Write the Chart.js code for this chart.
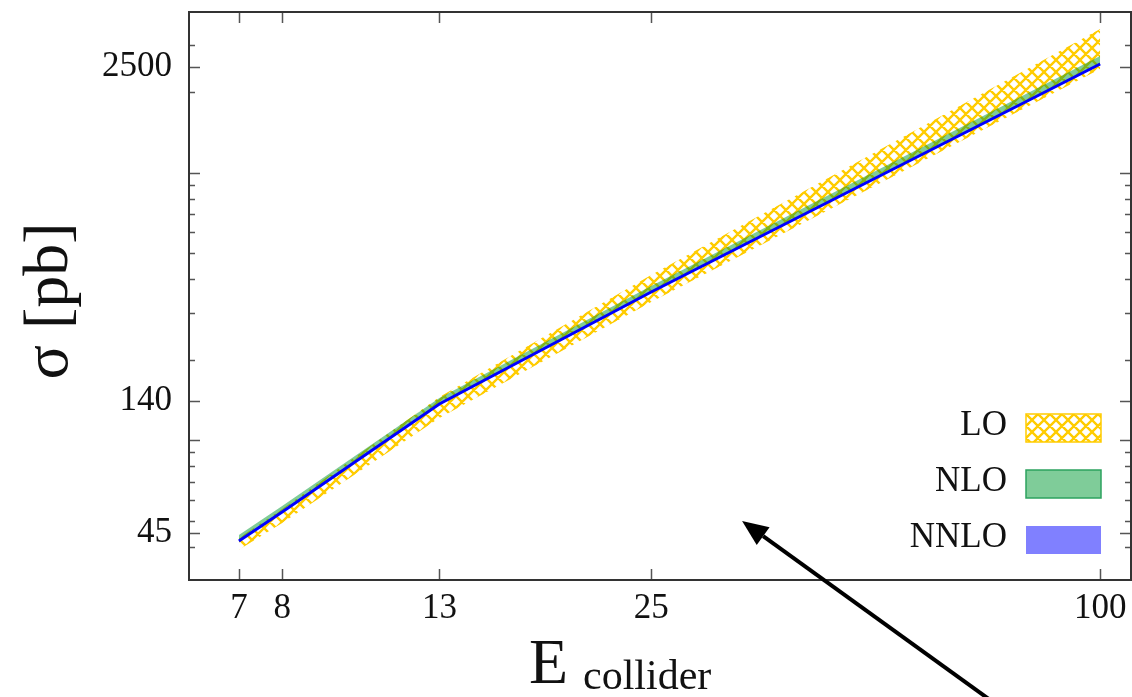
<!DOCTYPE html>
<html>
<head>
<meta charset="utf-8">
<script src="https://cdn.jsdelivr.net/npm/chart.js@4.4.1/dist/chart.umd.min.js"></script>
<style>
  html, body { margin: 0; padding: 0; background: #fff; }
  canvas { display: block; }
</style>
</head>
<body>
<canvas id="xsec" width="1132" height="697"></canvas>
<script>
'use strict';

// collider energies and cross sections [pb]
const energy   = [7, 8, 13, 25, 100];
const nnlo     = [42.0, 53.9, 136.6, 358.5, 2556];
const nloUp    = [44.2, 56.8, 143.9, 377.6, 2738];
const nloDown  = [41.6, 53.4, 135.4, 355.4, 2534];
const loUp     = [43.1, 55.3, 145.1, 415.0, 3455];
const loDown   = [38.9, 49.0, 121.1, 329.0, 2447];

const xTicks      = [7, 8, 13, 25, 100];
const yLabelTicks = [45, 140, 2500];
const yMajorTicks = [45, 100, 140, 1000, 2500];
const yMinorTicks = [40, 50, 60, 70, 80, 90, 200, 300, 400, 500, 600, 700, 800, 900, 2000, 3000];

const SERIF = '"Liberation Serif", "DejaVu Serif", serif';
const GOLD  = '#ffcc00';
const GREEN = 'rgba(0,153,51,0.5)';

const canvas = document.getElementById('xsec');
const ctx = canvas.getContext('2d');

function crossHatch(color) {
  const s = 12;
  const c = document.createElement('canvas');
  c.width = s; c.height = s;
  const g = c.getContext('2d');
  g.strokeStyle = color;
  g.lineWidth = 2.4;
  g.beginPath();
  for (const o of [-s, 0, s]) {
    g.moveTo(o, 0); g.lineTo(o + s, s);
    g.moveTo(o, s); g.lineTo(o + s, 0);
  }
  g.stroke();
  return ctx.createPattern(c, 'repeat');
}

const hatch = crossHatch(GOLD);
const pts = (vals) => energy.map((e, i) => ({ x: e, y: vals[i] }));

// frame, inward tick marks, legend, axis titles, arrow
const decorations = {
  id: 'decorations',
  afterDraw(chart) {
    const { ctx: c, chartArea: a, scales } = chart;
    const xs = scales.x, ys = scales.y;
    c.save();

    c.strokeStyle = '#555';
    c.lineWidth = 1.5;
    c.beginPath();
    xTicks.forEach((v) => {
      const px = Math.round(xs.getPixelForValue(v)) + 0.5;
      c.moveTo(px, a.bottom); c.lineTo(px, a.bottom - 11);
      c.moveTo(px, a.top);    c.lineTo(px, a.top + 11);
    });
    const yTick = (v, len) => {
      const py = Math.round(ys.getPixelForValue(v)) + 0.5;
      c.moveTo(a.left, py);  c.lineTo(a.left + len, py);
      c.moveTo(a.right, py); c.lineTo(a.right - len, py);
    };
    yMajorTicks.forEach((v) => yTick(v, 11));
    yMinorTicks.forEach((v) => yTick(v, 6));
    c.stroke();

    c.strokeStyle = '#333';
    c.lineWidth = 2;
    c.strokeRect(a.left, a.top, a.right - a.left, a.bottom - a.top);

    // legend
    const boxW = 75, boxH = 28;
    const boxX = a.right - 30 - boxW;
    const rows = [
      { label: 'LO',   top: a.bottom - 166, fill: hatch, line: GOLD },
      { label: 'NLO',  top: a.bottom - 110, fill: GREEN, line: '#2ca25f' },
      { label: 'NNLO', top: a.bottom - 54,  fill: '#8080ff', line: null },
    ];
    c.font = `35px ${SERIF}`;
    c.textAlign = 'right';
    c.textBaseline = 'middle';
    rows.forEach((r) => {
      c.fillStyle = '#111';
      c.fillText(r.label, boxX - 19, r.top + boxH / 2 - 2);
      c.fillStyle = r.fill;
      c.fillRect(boxX, r.top, boxW, boxH);
      if (r.line) {
        c.strokeStyle = r.line;
        c.lineWidth = 1.5;
        c.strokeRect(boxX, r.top, boxW, boxH);
      }
    });

    // axis titles
    c.fillStyle = '#111';
    c.textBaseline = 'alphabetic';
    c.textAlign = 'left';
    c.font = `64px ${SERIF}`;
    c.fillText('E', 529, 683);
    c.font = `42px ${SERIF}`;
    c.fillText('collider', 583, 689);

    c.save();
    c.translate(67, (a.top + a.bottom) / 2 + 5);
    c.rotate(-Math.PI / 2);
    c.textAlign = 'center';
    c.font = `64px ${SERIF}`;
    c.fillText('σ [pb]', 0, 0);
    c.restore();

    // arrow pointing into the plot
    const x0 = xs.getPixelForValue(73), y0 = ys.getPixelForValue(10.15);
    const x1 = xs.getPixelForValue(33.1), y1 = ys.getPixelForValue(49.9);
    const ang = Math.atan2(y0 - y1, x0 - x1);
    const hl = 26, hw = 11;
    const bx = x1 + hl * Math.cos(ang), by = y1 + hl * Math.sin(ang);
    c.strokeStyle = '#000';
    c.lineWidth = 4;
    c.beginPath();
    c.moveTo(x0, y0); c.lineTo(bx, by);
    c.stroke();
    c.fillStyle = '#000';
    c.beginPath();
    c.moveTo(x1, y1);
    c.lineTo(bx - hw * Math.sin(ang), by + hw * Math.cos(ang));
    c.lineTo(bx + hw * Math.sin(ang), by - hw * Math.cos(ang));
    c.closePath();
    c.fill();

    c.restore();
  },
};

new Chart(ctx, {
  type: 'line',
  data: {
    datasets: [
      { label: 'NNLO', data: pts(nnlo), borderColor: '#0000ff', borderWidth: 3, fill: false },
      { label: 'NLO', data: pts(nloUp), borderWidth: 0, borderColor: 'transparent', backgroundColor: GREEN, fill: '+1' },
      { label: 'NLO low', data: pts(nloDown), borderWidth: 0, borderColor: 'transparent', fill: false },
      { label: 'LO', data: pts(loUp), borderWidth: 0, borderColor: 'transparent', backgroundColor: hatch, fill: '+1' },
      { label: 'LO low', data: pts(loDown), borderWidth: 0, borderColor: 'transparent', fill: false },
    ],
  },
  options: {
    responsive: false,
    animation: false,
    layout: { padding: { top: 12, right: 1, left: 0, bottom: 0 } },
    elements: { point: { radius: 0 }, line: { tension: 0 } },
    plugins: { legend: { display: false }, tooltip: { enabled: false } },
    scales: {
      x: {
        type: 'logarithmic',
        min: 6, max: 110,
        grid: { display: false, drawTicks: false },
        border: { display: false },
        afterBuildTicks: (s) => { s.ticks = xTicks.map((v) => ({ value: v })); },
        afterFit: (s) => { s.height = 117; s.paddingLeft = 0; s.paddingRight = 0; },
        ticks: {
          autoSkip: false, maxRotation: 0, padding: 8, color: '#111',
          font: { family: SERIF, size: 35 },
          callback: (v) => String(v),
        },
      },
      y: {
        type: 'logarithmic',
        min: 30, max: 4000,
        grid: { display: false, drawTicks: false },
        border: { display: false },
        afterBuildTicks: (s) => { s.ticks = yLabelTicks.map((v) => ({ value: v })); },
        afterFit: (s) => { s.width = 189; s.paddingTop = 0; s.paddingBottom = 0; },
        ticks: {
          autoSkip: false, padding: 17, color: '#111',
          font: { family: SERIF, size: 35 },
          callback: (v) => String(v),
        },
      },
    },
  },
  plugins: [decorations],
});
</script>
</body>
</html>
